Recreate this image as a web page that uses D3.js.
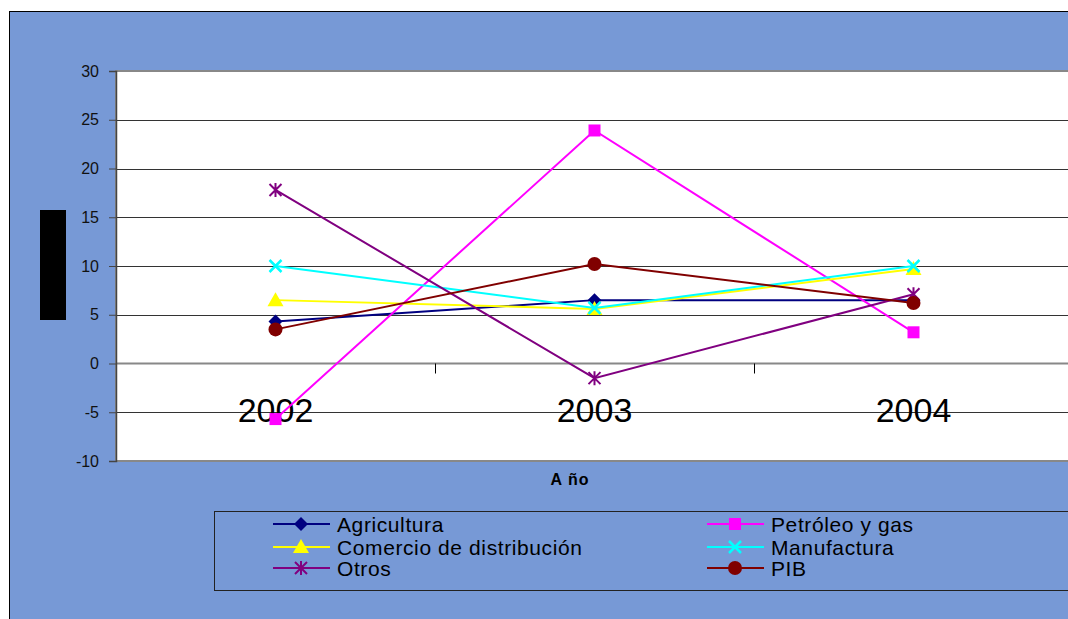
<!DOCTYPE html>
<html>
<head>
<meta charset="utf-8">
<script src="https://cdn.jsdelivr.net/npm/d3@7"></script>
<style>
  body { margin: 0; background: #fff; }
  svg { display: block; font-family: "Liberation Sans", Arial, sans-serif; }
</style>
</head>
<body>
<svg width="1068" height="619"></svg>
<script>
// categories and values
var years = ['2002', '2003', '2004'];
var seriesNames = ['Agricultura', 'Petróleo y gas', 'Comercio de distribución', 'Manufactura', 'Otros', 'PIB'];
var agricultura = [4.3, 6.5, 6.5];
var petroleo = [-5.7, 23.9, 3.2];
var comercio = [6.5, 5.6, 9.7];
var manufactura = [10.0, 5.7, 10.0];
var otros = [17.8, -1.5, 7.1];
var pib = [3.5, 10.2, 6.2];
var yTicks = [-10, -5, 0, 5, 10, 15, 20, 25, 30];

var colors = ['#000080', '#ff00ff', '#ffff00', '#00ffff', '#800080', '#800000'];
var shapes = ['diamond', 'square', 'triangle', 'x', 'star', 'circle'];
var values = [agricultura, petroleo, comercio, manufactura, otros, pib];

var series = seriesNames.map(function(n, i) {
  return {name: n, color: colors[i], shape: shapes[i], values: values[i]};
});

var svg = d3.select('svg');
var plot = {left: 116, top: 71, right: 1073, bottom: 461};

// outer panel
svg.append('rect')
  .attr('x', 9.5).attr('y', 11.5)
  .attr('width', 1080).attr('height', 640)
  .attr('fill', '#7799d6').attr('stroke', '#000').attr('stroke-width', 1);

var x = d3.scaleBand().domain(years).range([plot.left, plot.right]);
var y = d3.scaleLinear().domain([-10, 30]).range([plot.bottom, plot.top]);

// plot area
svg.append('rect')
  .attr('x', plot.left).attr('y', plot.top)
  .attr('width', plot.right - plot.left).attr('height', plot.bottom - plot.top)
  .attr('fill', '#fff').attr('stroke', '#888').attr('stroke-width', 2);

// gridlines
svg.append('g').selectAll('line')
  .data(yTicks.filter(function(d) { return d > -10 && d < 30 && d !== 0; }))
  .enter().append('line')
  .attr('x1', plot.left).attr('x2', plot.right)
  .attr('y1', function(d) { return Math.round(y(d)) + 0.5; })
  .attr('y2', function(d) { return Math.round(y(d)) + 0.5; })
  .attr('stroke', '#333').attr('stroke-width', 1);

// zero line with category ticks
svg.append('line')
  .attr('x1', plot.left).attr('x2', plot.right)
  .attr('y1', y(0)).attr('y2', y(0))
  .attr('stroke', '#888').attr('stroke-width', 2);
svg.append('g').selectAll('line')
  .data(years.slice(1))
  .enter().append('line')
  .attr('x1', function(d) { return Math.round(x(d)) + 0.5; })
  .attr('x2', function(d) { return Math.round(x(d)) + 0.5; })
  .attr('y1', y(0)).attr('y2', y(0) + 10)
  .attr('stroke', '#000');

// y axis
var yAxis = d3.axisLeft(y).tickValues(yTicks).tickSize(7).tickPadding(10)
  .tickFormat(function(d) { return String(d); });
var ya = svg.append('g')
  .attr('transform', 'translate(' + plot.left + ',0)')
  .call(yAxis);
ya.select('.domain').attr('stroke', '#444').attr('stroke-width', 1.5);
ya.selectAll('.tick line').attr('stroke', '#444');
ya.selectAll('.tick text')
  .attr('font-size', 16).attr('fill', '#111')
  .attr('font-family', '"Liberation Sans", Arial, sans-serif');

// y title box (rendered as a solid block)
svg.append('rect')
  .attr('x', 40).attr('y', 210).attr('width', 26).attr('height', 110)
  .attr('fill', '#000');

// year labels inside the plot
svg.append('g').selectAll('text')
  .data(years)
  .enter().append('text')
  .attr('x', function(d) { return x(d) + x.bandwidth() / 2; })
  .attr('y', 422)
  .attr('text-anchor', 'middle')
  .attr('font-size', 34)
  .attr('fill', '#000')
  .text(function(d) { return d; });

// x title
svg.append('text')
  .attr('x', 570).attr('y', 485)
  .attr('text-anchor', 'middle')
  .attr('font-size', 16).attr('font-weight', 'bold')
  .attr('letter-spacing', 1)
  .text('A ño');

function drawMarker(g, shape, color) {
  if (shape === 'diamond') {
    g.append('path').attr('d', 'M0,-7L7,0L0,7L-7,0Z').attr('fill', color);
  } else if (shape === 'square') {
    g.append('rect').attr('x', -6).attr('y', -6).attr('width', 12).attr('height', 12).attr('fill', color);
  } else if (shape === 'triangle') {
    g.append('path').attr('d', 'M0,-8L8,6L-8,6Z').attr('fill', color);
  } else if (shape === 'x') {
    g.append('path').attr('d', 'M-6,-6L6,6M-6,6L6,-6').attr('stroke', color).attr('stroke-width', 2.5);
  } else if (shape === 'star') {
    g.append('path').attr('d', 'M-6,-6L6,6M-6,6L6,-6M0,-7L0,7').attr('stroke', color).attr('stroke-width', 2);
  } else if (shape === 'circle') {
    g.append('circle').attr('r', 7).attr('fill', color);
  }
}

var line = d3.line()
  .x(function(d, i) { return x(years[i]) + x.bandwidth() / 2; })
  .y(function(d) { return y(d); });

series.forEach(function(s) {
  var g = svg.append('g');
  g.append('path')
    .attr('d', line(s.values))
    .attr('fill', 'none')
    .attr('stroke', s.color)
    .attr('stroke-width', 2);
  s.values.forEach(function(v, i) {
    var m = g.append('g')
      .attr('transform', 'translate(' + (x(years[i]) + x.bandwidth() / 2) + ',' + y(v) + ')');
    drawMarker(m, s.shape, s.color);
  });
});

// legend
svg.append('rect')
  .attr('x', 214.5).attr('y', 511.5).attr('width', 900).attr('height', 79)
  .attr('fill', 'none').attr('stroke', '#222');

var legendRows = [524, 547, 568];
var legendCols = [273, 707];
series.forEach(function(s, i) {
  var col = i % 2, row = Math.floor(i / 2);
  var lx = legendCols[col], ly = legendRows[row];
  var g = svg.append('g').attr('transform', 'translate(' + lx + ',' + ly + ')');
  g.append('line').attr('x1', 0).attr('x2', 57).attr('y1', 0).attr('y2', 0)
    .attr('stroke', s.color).attr('stroke-width', 2);
  drawMarker(g.append('g').attr('transform', 'translate(28,0)'), s.shape, s.color);
  g.append('text')
    .attr('x', 64).attr('y', 8)
    .attr('font-size', 21).attr('fill', '#000')
    .attr('letter-spacing', 0.6)
    .text(s.name);
});
</script>
</body>
</html>
